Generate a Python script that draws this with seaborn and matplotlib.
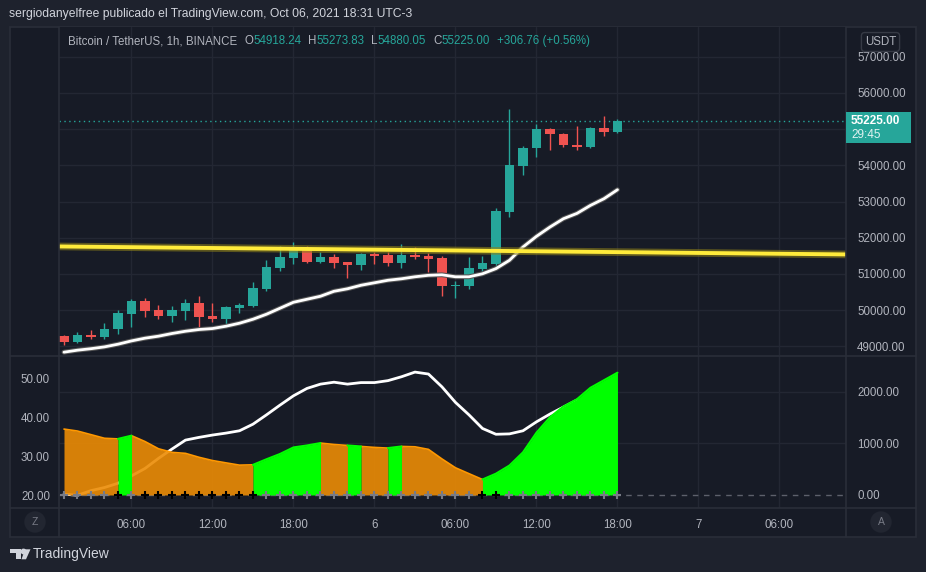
import numpy as np
import pandas as pd
import matplotlib
matplotlib.use("Agg")
import matplotlib.pyplot as plt
from matplotlib.patches import Rectangle, Polygon
from matplotlib.lines import Line2D
from matplotlib.transforms import blended_transform_factory
import seaborn as sns

sns.set_theme(style="dark")
plt.rcParams['font.family'] = ['Liberation Sans', 'DejaVu Sans']

# BTC/USDT 1h candles, Oct 05 01:00 -> Oct 06 18:00
opens = [49284, 49118, 49311, 49265, 49470, 49898, 50248, 50000, 49843, 49981,
         50193, 49835, 49752, 50055, 50110, 50579, 51157, 51433, 51708, 51322,
         51460, 51322, 51240, 51543, 51515, 51295, 51515, 51488, 51433, 50669,
         50669, 51138, 51276, 52708, 53976, 54471, 54987, 54876, 54573, 54499,
         55042, 54918.24]
highs = [49311, 49394, 49449, 49650, 50000, 50303, 50331, 50147, 50110, 50303,
         50386, 50193, 50110, 50193, 50771, 51378, 51763, 51873, 51763, 51598,
         51543, 51340, 51570, 51598, 51598, 51818, 51736, 51570, 51496, 50799,
         51460, 51488, 52810, 55565, 54545, 55152, 55042, 54904, 55097, 55069,
         55372, 55273.83]
lows = [49036, 49083, 49210, 49210, 49347, 49532, 49807, 49752, 49670, 49725,
        49532, 49670, 49614, 49917, 50083, 50523, 51074, 51267, 51295, 51295,
        51157, 50882, 51102, 51267, 51212, 51157, 51405, 51047, 50394, 50339,
        50587, 51055, 51221, 52562, 53727, 54223, 54416, 54499, 54416, 54471,
        54802, 54880.05]
closes = [49118, 49311, 49265, 49477, 49917, 50248, 49981, 49843, 50000, 50193,
          49807, 49752, 50083, 50138, 50606, 51185, 51460, 51708, 51322, 51460,
          51295, 51240, 51543, 51488, 51295, 51515, 51460, 51405, 50669, 50697,
          51157, 51295, 52727, 53995, 54490, 54987, 54857, 54554, 54499, 55042,
          54918.24, 55225.00]
ma_line = [48843, 48898, 48939, 48989, 49063, 49154, 49229, 49284, 49358, 49421,
           49468, 49495, 49559, 49642, 49752, 49890, 50055, 50220, 50303, 50386,
           50523, 50592, 50689, 50758, 50827, 50868, 50923, 50964, 50978, 50923,
           50923, 51006, 51149, 51378, 51744, 52039, 52295, 52526, 52672, 52893,
           53077, 53325]
trend_x = [-0.37, 57.93]
trend_y = [51760, 51540]

# lower pane
area_vals = [1276, 1238, 1168, 1098, 1086, 1149, 1035, 895, 825, 806,
             730, 667, 622, 578, 584, 692, 794, 921, 959, 1005,
             978, 959, 940, 921, 908, 940, 933, 883, 698, 527,
             413, 300, 413, 571, 825, 1206, 1505, 1714, 1854, 2076,
             2222, 2368]
area_green = [0, 0, 0, 0, 0, 1, 0, 0, 0, 0,
              0, 0, 0, 0, 0, 1, 1, 1, 1, 1,
              0, 0, 1, 0, 0, 1, 0, 0, 0, 0,
              0, 0, 1, 1, 1, 1, 1, 1, 1, 1,
              1, 1]
cross_dark = [0, 0, 0, 0, 1, 0, 1, 1, 1, 1,
              1, 1, 1, 1, 1, 0, 0, 0, 0, 0,
              0, 0, 0, 0, 0, 0, 0, 0, 0, 0,
              0, 1, 1, 0, 0, 0, 0, 0, 0, 0,
              0, 0]
osc_vals = [20.3, 20.0, 21.2, 22.0, 23.1, 25.0, 26.9, 29.5, 31.9, 34.2,
            34.9, 35.5, 36.0, 36.6, 38.3, 40.7, 43.2, 45.6, 47.5, 48.6,
            49.1, 48.6, 49.0, 49.0, 49.5, 50.5, 51.7, 51.2, 47.9, 43.9,
            40.7, 37.2, 35.7, 35.8, 36.6, 38.9, 40.9, 42.7, 44.5]

price_ticks = [49000, 50000, 51000, 52000, 53000, 54000, 55000, 56000, 57000]
price_hidden = [55000]  # label sits under the last-price tag
osc_ticks = [20, 30, 40, 50]
area_ticks = [0, 1000, 2000]
time_pos = [5, 11, 17, 23, 29, 35, 41, 47, 53]
time_labels = ['06:00', '12:00', '18:00', '6', '06:00', '12:00', '18:00', '7', '06:00']

OUTER = '#1e222d'
BG = '#171b26'
LINE = '#2a2e39'
GRID = '#232733'
TXT = '#b2b5be'
UP = '#26a69a'
DN = '#ef5350'
ORANGE = '#ec8c05'
GREEN = '#00ff00'

W, H = 926, 572
def fx(px):
    return px / W
def fy(py):
    return 1 - py / H

fig = plt.figure(figsize=(W / 100, H / 100), dpi=100, facecolor=OUTER)
fig.add_artist(Rectangle((fx(10), fy(537)), fx(916) - fx(10), fy(27) - fy(537),
                         transform=fig.transFigure, facecolor=BG, edgecolor=LINE,
                         lw=1.2, zorder=-5))

x = np.arange(len(closes))
df = pd.DataFrame({'bar': x, 'open': opens, 'high': highs, 'low': lows,
                   'close': closes, 'ma': ma_line, 'area': area_vals})

# ---- price pane
ax = fig.add_axes([fx(59), fy(355), fx(846) - fx(59), fy(27) - fy(355)])
ax.set_facecolor(BG)
ax.set_xlim(-0.37, 57.93)
ax.set_ylim(48765, 57815)
ax.set_xticks(time_pos)
ax.set_yticks(price_ticks)
ax.set_yticklabels(['' if p in price_hidden else '%.2f' % p for p in price_ticks])
ax.grid(True, color=GRID, lw=1)
ax.yaxis.tick_right()
ax.tick_params(axis='y', length=0, pad=8, labelsize=8.3, labelcolor=TXT)
ax.tick_params(axis='x', length=0, labelbottom=False)
for s in ax.spines.values():
    s.set_visible(False)

cols = [UP if c >= o else DN for o, c in zip(opens, closes)]
ax.vlines(x, lows, highs, colors=cols, lw=1, zorder=3)
bottoms = np.minimum(opens, closes)
heights = np.maximum(np.abs(np.array(closes) - np.array(opens)), 30)
ax.bar(x, heights, bottom=bottoms, width=0.72, color=cols, lw=0, zorder=4)

ax.axhline(closes[-1], color=UP, lw=1, ls=(0, (1, 2.5)), zorder=2)
sns.lineplot(data=df, x='bar', y='ma', ax=ax, color='#555555', lw=3.5, zorder=5, legend=False)
sns.lineplot(data=df, x='bar', y='ma', ax=ax, color='white', lw=2, zorder=5, legend=False)
sns.lineplot(x=trend_x, y=trend_y, ax=ax, color='#8a7d1a', lw=5.5, alpha=0.6, zorder=6)
sns.lineplot(x=trend_x, y=trend_y, ax=ax, color='#ffeb3b', lw=2.8, zorder=6)
ax.set_xlabel('')
ax.set_ylabel('')

# ---- lower pane
axl = fig.add_axes([fx(59), fy(508), fx(846) - fx(59), fy(356) - fy(508)])
axl.set_facecolor(BG)
axl.set_xlim(-0.37, 57.93)
axl.set_ylim(16.73, 55.84)
axl.set_yticks(osc_ticks)
axl.set_yticklabels(['%.2f' % v for v in osc_ticks])
axl.set_xticks(time_pos)
axl.set_xticklabels(time_labels)
axl.tick_params(axis='x', length=0, pad=8, labelsize=8.3, labelcolor=TXT)
axl.tick_params(axis='y', length=0, pad=6.5, labelsize=8.3, labelcolor=TXT)
axl.grid(False)
for p in time_pos:
    axl.axvline(p, color=GRID, lw=1, zorder=0)
for s in axl.spines.values():
    s.set_visible(False)

axr = axl.twinx()
axr.set_ylim(-252, 2691)
axr.set_yticks(area_ticks)
axr.set_yticklabels(['%.2f' % v for v in area_ticks])
axr.tick_params(axis='y', length=0, pad=8, labelsize=8.3, labelcolor=TXT)
axr.grid(False)
for s in axr.spines.values():
    s.set_visible(False)
tr = blended_transform_factory(axl.transAxes, axr.transData)
for v in area_ticks[1:]:
    axl.plot([0, 1], [v, v], transform=tr, color=GRID, lw=1, zorder=0)

sns.lineplot(x=x[:len(osc_vals)], y=osc_vals, ax=axl, color='white', lw=2, zorder=2)
axl.set_xlabel('')
axl.set_ylabel('')

axr.axhline(0, color='#5d606b', lw=1, ls=(0, (4, 4)), zorder=1)
# area split into runs of one colour
runs = []
start = 1
for i in range(2, len(x) + 1):
    if i == len(x) or area_green[i] != area_green[start]:
        runs.append((start, i - 1, area_green[start]))
        start = i
for a, b, g in runs:
    xs = x[a - 1:b + 1]
    ys = np.array(area_vals[a - 1:b + 1])
    if g:
        axr.fill_between(xs, ys, 0, color=GREEN, lw=0, zorder=4)
        axr.plot(xs, ys, color=GREEN, lw=1.5, zorder=4)
    else:
        axr.fill_between(xs, ys, 0, color=ORANGE, alpha=0.9, lw=0, zorder=3)
        axr.plot(xs, ys, color='#ff9800', lw=1.2, zorder=3)
dark = np.array(cross_dark) == 1
axr.plot(x[~dark], np.zeros((~dark).sum()), '+', color='#787b86', ms=6, mew=1.5, zorder=6)
axr.plot(x[dark], np.zeros(dark.sum()), '+', color='#000000', ms=6, mew=1.5, zorder=6)
axr.set_ylabel('')

# ---- frame lines
for px in [59, 846]:
    fig.add_artist(Line2D([fx(px), fx(px)], [fy(27), fy(537)], color=LINE, lw=1.2, zorder=5))
for py in [356, 508]:
    fig.add_artist(Line2D([fx(10), fx(916)], [fy(py), fy(py)], color=LINE, lw=1.2, zorder=5))

# ---- texts
fig.text(fx(9), fy(14), 'sergiodanyelfree publicado el TradingView.com, Oct 06, 2021 18:31 UTC-3',
         color='#d1d4dc', fontsize=8.7, va='center', ha='left')

t = fig.text(fx(68), fy(47), 'Bitcoin / TetherUS, 1h, BINANCE', color=TXT, fontsize=8.3,
             ha='left', va='bottom')
parts = [('O', TXT, 5), ('54918.24', UP, 0), ('H', TXT, 5), ('55273.83', UP, 0),
         ('L', TXT, 5), ('54880.05', UP, 0), ('C', TXT, 5), ('55225.00', UP, 0),
         ('+306.76 (+0.56%)', UP, 5)]
prev = t
for s, c, gap in parts:
    prev = plt.annotate(s, xy=(1, 0), xycoords=prev, xytext=(gap, 0), textcoords='offset points',
                        color=c, fontsize=8.3, ha='left', va='bottom', annotation_clip=False)

fig.text(fx(880.5), fy(42), 'USDT', color=TXT, fontsize=8.3, ha='center', va='center',
         bbox=dict(boxstyle='round,pad=0.3', fc=BG, ec='#363a45', lw=1), zorder=10)

fig.add_artist(Rectangle((fx(846), fy(143)), fx(911) - fx(846), fy(112) - fy(143),
                         transform=fig.transFigure, facecolor=UP, edgecolor='none', zorder=10))
fig.text(fx(851), fy(120.5), '55225.00', color='white', fontsize=8.5, weight='bold',
         ha='left', va='center', zorder=11)
fig.text(fx(851), fy(135), '29:45', color='#e0f2f1', fontsize=8.5, ha='left', va='center', zorder=11)

for px, s in [(35, 'Z'), (881, 'A')]:
    fig.text(fx(px), fy(522), s, color='#787b86', fontsize=7.5, ha='center', va='center',
             bbox=dict(boxstyle='circle,pad=0.55', fc='#222631', ec='none'))

# TradingView logo
logo_c = '#d1d4dc'
for pts in [[(10, 549.3), (20.7, 549.3), (20.7, 553.3), (10, 553.3)],
            [(16, 549.3), (20.7, 549.3), (20.7, 559.3), (16, 559.3)],
            [(25, 549.3), (30.5, 549.3), (26, 559.3), (21.5, 559.3)]]:
    fig.add_artist(Polygon([(fx(a), fy(b)) for a, b in pts], closed=True,
                           transform=fig.transFigure, facecolor=logo_c, edgecolor='none'))
fig.add_artist(Line2D([fx(22.6)], [fy(550.8)], marker='o', ms=3.2, color=logo_c, lw=0))
fig.text(fx(33), fy(554), 'TradingView', color=logo_c, fontsize=10, ha='left', va='center')

fig.savefig('out.png', dpi=100, facecolor=OUTER)
